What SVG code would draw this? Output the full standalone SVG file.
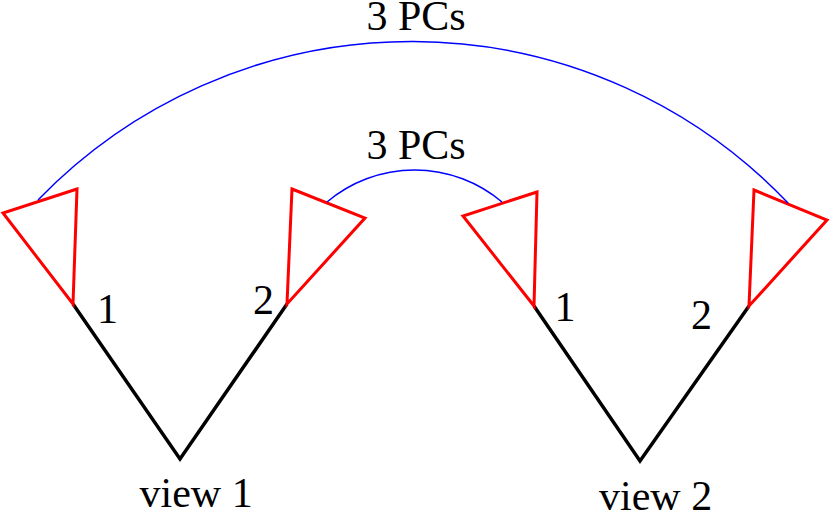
<svg xmlns="http://www.w3.org/2000/svg" width="830" height="511" viewBox="0 0 830 511">
<style>
.bg{fill:#ffffff}
.cam{fill:none;stroke:#ff0000;stroke-width:3;stroke-linejoin:miter}
.leg{fill:none;stroke:#000000;stroke-width:3.5;stroke-linejoin:miter}
.arc{fill:none;stroke:#0000ff;stroke-width:1.5}
.t{font-family:'Liberation Serif','Times New Roman',serif;font-size:42px;fill:#000000}
</style>
<rect class="bg" x="0" y="0" width="830" height="511"/>
<g id="view1">
  <polyline class="leg" points="73,304 180,459 287,304"/>
  <polygon class="cam" points="77,189 3,213 73,304"/>
  <polygon class="cam" points="292,189 365,218 287,304"/>
  <text class="t" x="97" y="322.7">1</text>
  <text class="t" x="253" y="314.3">2</text>
  <text class="t" x="139.5" y="506.7">view 1</text>
</g>
<g id="view2">
  <polyline class="leg" points="534,306 640,461 749,306"/>
  <polygon class="cam" points="537,192 463,216 534,306"/>
  <polygon class="cam" points="754,190 827,220 749,306"/>
  <text class="t" x="554.6" y="321">1</text>
  <text class="t" x="691" y="329.3">2</text>
  <text class="t" x="599" y="510">view 2</text>
</g>
<g id="connectors">
  <path class="arc" d="M38,200 A519.5,519.5 0 0 1 788,203"/>
  <path class="arc" d="M327,202 A135.6,135.6 0 0 1 502,202"/>
  <text class="t" x="416" y="30" text-anchor="middle">3 PCs</text>
  <text class="t" x="416" y="159.3" text-anchor="middle">3 PCs</text>
</g>
</svg>
